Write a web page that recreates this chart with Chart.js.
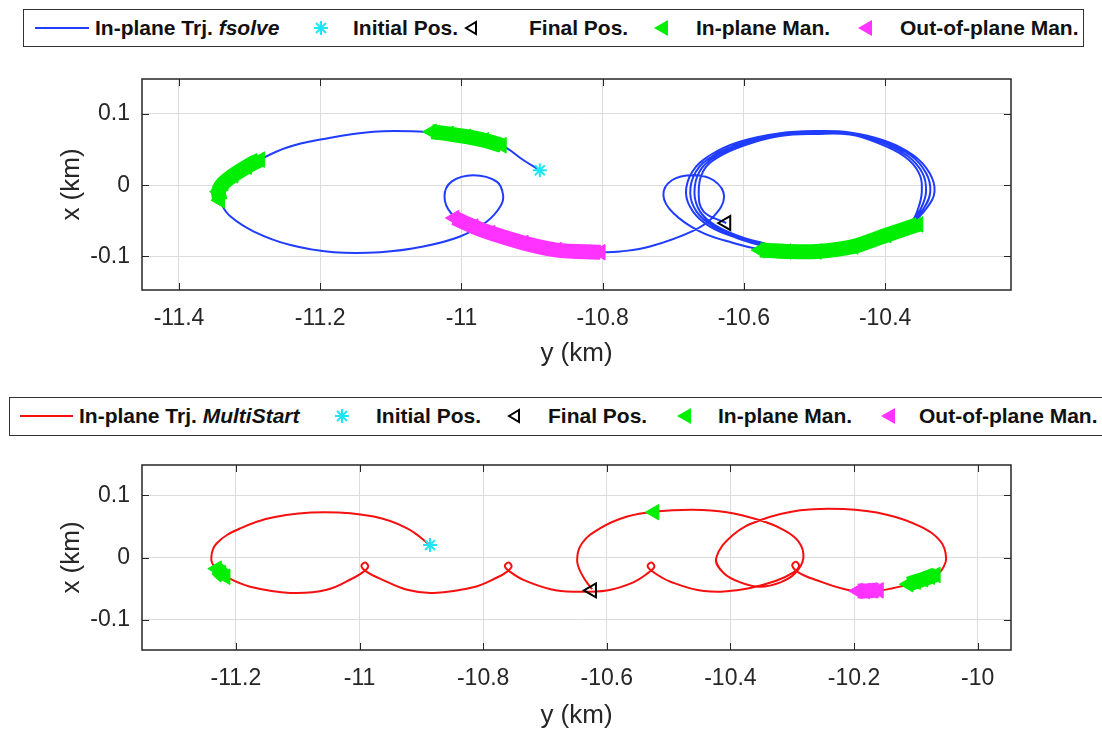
<!DOCTYPE html>
<html>
<head>
<meta charset="utf-8">
<script src="https://cdn.jsdelivr.net/npm/chart.js@4.4.0/dist/chart.umd.min.js"></script>
<style>
  body { margin: 0; width: 1102px; height: 731px; overflow: hidden; background: #fff; position: relative;
         font-family: 'Liberation Sans', Arial, sans-serif; }
  canvas { position: absolute; left: 0; }
  .legend { position: absolute; border: 1px solid #333; background: #fff; box-sizing: border-box; }
  .legend span { position: absolute; top: 0; line-height: 36px; font-weight: bold; font-size: 21px; color: #111; white-space: nowrap; }
  .legend svg { position: absolute; }
</style>
</head>
<body>

<div class="legend" style="left:23px; top:9px; width:1061px; height:38px;">
  <svg style="left:11px; top:15px" width="54" height="6"><line x1="0" y1="3" x2="54" y2="3" stroke="#1f3cff" stroke-width="2"/></svg>
  <span style="left:71px">In-plane Trj. <i>fsolve</i></span>
  <svg style="left:289px; top:10px" width="16" height="16"><g stroke="#1ee6f5" stroke-width="2"><line x1="8" y1="1" x2="8" y2="15"/><line x1="1" y1="8" x2="15" y2="8"/><line x1="3" y1="3" x2="13" y2="13"/><line x1="13" y1="3" x2="3" y2="13"/></g></svg>
  <span style="left:329px">Initial Pos.</span>
  <svg style="left:437px; top:9px" width="18" height="18"><polygon points="5,9 15,3 15,15" fill="none" stroke="#000" stroke-width="2"/></svg>
  <span style="left:505px">Final Pos.</span>
  <svg style="left:628px; top:9px" width="18" height="18"><polygon points="2,9 16,1 16,17" fill="#00ee00"/></svg>
  <span style="left:672px">In-plane Man.</span>
  <svg style="left:832px; top:9px" width="18" height="18"><polygon points="2,9 16,1 16,17" fill="#ff33ff"/></svg>
  <span style="left:876px">Out-of-plane Man.</span>
</div>

<div class="legend" style="left:9px; top:397px; width:1110px; height:39px;">
  <svg style="left:10px; top:15px" width="53" height="6"><line x1="0" y1="3" x2="53" y2="3" stroke="#f50f0f" stroke-width="2"/></svg>
  <span style="left:69px">In-plane Trj. <i>MultiStart</i></span>
  <svg style="left:324px; top:10px" width="16" height="16"><g stroke="#1ee6f5" stroke-width="2"><line x1="8" y1="1" x2="8" y2="15"/><line x1="1" y1="8" x2="15" y2="8"/><line x1="3" y1="3" x2="13" y2="13"/><line x1="13" y1="3" x2="3" y2="13"/></g></svg>
  <span style="left:366px">Initial Pos.</span>
  <svg style="left:494px; top:9px" width="18" height="18"><polygon points="5,9 15,3 15,15" fill="none" stroke="#000" stroke-width="2"/></svg>
  <span style="left:538px">Final Pos.</span>
  <svg style="left:665px; top:9px" width="18" height="18"><polygon points="2,9 16,1 16,17" fill="#00ee00"/></svg>
  <span style="left:708px">In-plane Man.</span>
  <svg style="left:869px; top:9px" width="18" height="18"><polygon points="2,9 16,1 16,17" fill="#ff33ff"/></svg>
  <span style="left:909px">Out-of-plane Man.</span>
</div>

<canvas id="top-chart" width="1040" height="320" style="top:60px"></canvas>
<canvas id="bottom-chart" width="1040" height="291" style="top:440px"></canvas>

<script>
// Points are [y (km), x (km)]: y runs along the horizontal axis, x up the vertical one

// fsolve trajectory (top plot)
const fsolveTrj = [
  [-10.889, 0.021], [-10.912, 0.035], [-10.943, 0.056], [-10.983, 0.066], [-11.016, 0.072], [-11.054, 0.075],
  [-11.125, 0.075], [-11.200, 0.064], [-11.247, 0.053], [-11.285, 0.036], [-11.323, 0.014], [-11.344, -0.009],
  [-11.339, -0.028], [-11.327, -0.044], [-11.294, -0.065], [-11.242, -0.084], [-11.181, -0.094], [-11.115, -0.094],
  [-11.054, -0.086], [-11.002, -0.072], [-10.964, -0.051], [-10.945, -0.030], [-10.941, -0.014], [-10.950, 0.005],
  [-10.983, 0.014], [-11.014, 0.005], [-11.024, -0.016], [-11.014, -0.040], [-10.985, -0.058], [-10.959, -0.067],
  [-10.912, -0.081], [-10.865, -0.091], [-10.801, -0.094], [-10.775, -0.093], [-10.733, -0.086], [-10.672, -0.064],
  [-10.643, -0.044], [-10.628, -0.016], [-10.643, 0.007], [-10.672, 0.014], [-10.702, 0.007], [-10.714, -0.014],
  [-10.700, -0.039], [-10.662, -0.065], [-10.615, -0.081], [-10.577, -0.090],
  [-10.540, -0.094], [-10.497, -0.095], [-10.445, -0.089], [-10.398, -0.073], [-10.363, -0.054], [-10.341, -0.032],
  [-10.330, -0.009], [-10.337, 0.017], [-10.360, 0.042], [-10.403, 0.063], [-10.450, 0.074], [-10.497, 0.076],
  [-10.549, 0.073], [-10.606, 0.061], [-10.648, 0.042], [-10.673, 0.019], [-10.682, -0.011], [-10.672, -0.037],
  [-10.648, -0.058], [-10.610, -0.074], [-10.577, -0.084],
  [-10.540, -0.093], [-10.497, -0.093], [-10.445, -0.087], [-10.398, -0.072], [-10.363, -0.053], [-10.345, -0.032],
  [-10.336, -0.009], [-10.342, 0.017], [-10.364, 0.042], [-10.405, 0.062], [-10.450, 0.073], [-10.497, 0.075],
  [-10.549, 0.071], [-10.603, 0.059], [-10.644, 0.041], [-10.668, 0.019], [-10.676, -0.011], [-10.667, -0.037],
  [-10.644, -0.057], [-10.608, -0.073], [-10.577, -0.082],
  [-10.540, -0.092], [-10.497, -0.092], [-10.445, -0.085], [-10.398, -0.070], [-10.363, -0.052], [-10.349, -0.032],
  [-10.342, -0.009], [-10.347, 0.017], [-10.368, 0.041], [-10.407, 0.061], [-10.450, 0.072], [-10.497, 0.073],
  [-10.549, 0.070], [-10.601, 0.058], [-10.641, 0.040], [-10.663, 0.019], [-10.670, -0.011], [-10.662, -0.037],
  [-10.641, -0.056], [-10.606, -0.072], [-10.577, -0.080],
  [-10.540, -0.090], [-10.497, -0.090], [-10.445, -0.083], [-10.398, -0.069], [-10.363, -0.051], [-10.353, -0.032],
  [-10.348, -0.009], [-10.352, 0.017], [-10.372, 0.040], [-10.410, 0.059], [-10.450, 0.071], [-10.497, 0.072],
  [-10.549, 0.069], [-10.599, 0.056], [-10.637, 0.039], [-10.658, 0.019], [-10.664, -0.011], [-10.657, -0.037],
  [-10.625, -0.053]
];
const fsolveInit = [[-10.889, 0.021]];
const fsolveFinal = [[-10.625, -0.053]];
const fsolveInMan = [
  [[-10.943, 0.056], [-10.968, 0.063], [-10.993, 0.068], [-11.018, 0.072], [-11.042, 0.075]],
  [[-11.285, 0.036], [-11.304, 0.026], [-11.323, 0.014], [-11.337, 0.003], [-11.344, -0.009], [-11.342, -0.021]],
  [[-10.577, -0.091], [-10.540, -0.093], [-10.497, -0.093], [-10.445, -0.086], [-10.398, -0.070], [-10.353, -0.055]]
];
const fsolveOutMan = [
  [[-11.010, -0.046], [-10.983, -0.058], [-10.959, -0.067], [-10.912, -0.081], [-10.865, -0.091], [-10.803, -0.094]]
];
const fsolveHTicks = [-11.4, -11.2, -11, -10.8, -10.6, -10.4];

// MultiStart trajectory (bottom plot)
const msTrj = [
  [-10.886, 0.020], [-10.923, 0.047], [-10.977, 0.066], [-11.058, 0.073], [-11.139, 0.065], [-11.193, 0.047],
  [-11.231, 0.023], [-11.240, -0.001], [-11.233, -0.017], [-11.212, -0.033], [-11.177, -0.047], [-11.112, -0.057],
  [-11.053, -0.052], [-11.010, -0.033],
  [-10.995, -0.024], [-10.986, -0.015], [-10.991, -0.008], [-10.997, -0.014], [-10.987, -0.024],
  [-10.967, -0.034], [-10.923, -0.052], [-10.880, -0.057], [-10.816, -0.048], [-10.775, -0.031],
  [-10.763, -0.024], [-10.754, -0.015], [-10.759, -0.008], [-10.765, -0.014], [-10.755, -0.024],
  [-10.735, -0.036], [-10.691, -0.051], [-10.654, -0.055], [-10.600, -0.053], [-10.557, -0.040],
  [-10.532, -0.024], [-10.523, -0.015], [-10.528, -0.008], [-10.534, -0.014], [-10.524, -0.024],
  [-10.497, -0.039], [-10.443, -0.054], [-10.379, -0.051], [-10.325, -0.037],
  [-10.298, -0.024], [-10.289, -0.014], [-10.294, -0.007], [-10.300, -0.013], [-10.290, -0.024],
  [-10.265, -0.035], [-10.201, -0.054], [-10.157, -0.053], [-10.136, -0.049], [-10.114, -0.044], [-10.068, -0.028],
  [-10.058, -0.020], [-10.051, -0.001], [-10.060, 0.026], [-10.093, 0.050], [-10.147, 0.069], [-10.217, 0.078],
  [-10.287, 0.076], [-10.352, 0.060], [-10.395, 0.037], [-10.423, -0.001], [-10.411, -0.025], [-10.384, -0.040],
  [-10.352, -0.047], [-10.319, -0.040], [-10.295, -0.025], [-10.282, -0.001], [-10.290, 0.026], [-10.319, 0.047],
  [-10.352, 0.060], [-10.406, 0.073], [-10.460, 0.077], [-10.522, 0.074], [-10.567, 0.066], [-10.611, 0.047],
  [-10.640, 0.023], [-10.648, -0.004], [-10.640, -0.028], [-10.624, -0.051]
];
const msInit = [[-10.886, 0.020]];
const msFinal = [[-10.624, -0.053]];
const msInMan = [
  [[-11.231, -0.018], [-11.224, -0.025], [-11.217, -0.031]],
  [[-10.523, 0.073]],
  [[-10.112, -0.043], [-10.100, -0.039], [-10.088, -0.035], [-10.077, -0.031], [-10.068, -0.028]]
];
const msOutMan = [
  [[-10.194, -0.054], [-10.182, -0.054], [-10.170, -0.053], [-10.160, -0.053]]
];
const msHTicks = [-11.2, -11, -10.8, -10.6, -10.4, -10.2, -10];

const vTicks = [-0.1, 0, 0.1];

const BLUE = '#1f3cff';
const RED = '#f50f0f';
const CYAN = '#1ee6f5';
const GREEN = '#00ee00';
const MAGENTA = '#ff33ff';
const AXIS = '#262626';
const FONT = "'Liberation Sans', Arial, sans-serif";

const pts = arr => arr.map(([y, x]) => ({ x: y, y: x }));
const fmt = v => String(Math.round(v * 100) / 100);

// MATLAB style box with inward ticks on all four sides
const matlabBox = {
  id: 'matlabBox',
  afterDatasetsDraw(chart) {
    const { ctx, chartArea: a, scales: { x, y } } = chart;
    ctx.save();
    ctx.strokeStyle = AXIS;
    ctx.lineWidth = 1;
    ctx.beginPath();
    x.ticks.forEach(t => {
      const px = Math.round(x.getPixelForValue(t.value)) + 0.5;
      ctx.moveTo(px, a.bottom); ctx.lineTo(px, a.bottom - 7);
      ctx.moveTo(px, a.top); ctx.lineTo(px, a.top + 7);
    });
    y.ticks.forEach(t => {
      const py = Math.round(y.getPixelForValue(t.value)) + 0.5;
      ctx.moveTo(a.left, py); ctx.lineTo(a.left + 7, py);
      ctx.moveTo(a.right, py); ctx.lineTo(a.right - 7, py);
    });
    ctx.stroke();
    ctx.lineWidth = 1.5;
    ctx.strokeRect(a.left, a.top, a.right - a.left, a.bottom - a.top);
    ctx.restore();
  }
};

const maneuver = (seg, color, order) => ({
  data: pts(seg),
  showLine: true,
  borderColor: color,
  borderWidth: 15,
  tension: 0.3,
  pointStyle: 'triangle',
  pointRotation: -90,
  pointRadius: 9,
  pointBackgroundColor: color,
  pointBorderColor: color,
  pointBorderWidth: 1,
  order: order
});

const makeChart = (id, p) => {
  const datasets = [
    { data: pts(p.trj), showLine: true, borderColor: p.color, borderWidth: 2, pointRadius: 0, tension: 0.4, order: 5 },
    { data: pts(p.init), showLine: false, pointStyle: 'star', pointRadius: 7,
      pointBorderColor: CYAN, pointBorderWidth: 2, order: 4 },
    { data: pts(p.final), showLine: false, pointStyle: 'triangle', pointRotation: -90, pointRadius: 8,
      pointBorderColor: '#000', pointBackgroundColor: 'rgba(0,0,0,0)', pointBorderWidth: 2, order: 3 },
    ...p.inMan.map(seg => maneuver(seg, GREEN, 2)),
    ...p.outMan.map(seg => maneuver(seg, MAGENTA, 1))
  ];

  return new Chart(document.getElementById(id).getContext('2d'), {
    type: 'scatter',
    data: { datasets },
    options: {
      responsive: false,
      animation: false,
      events: [],
      layout: { padding: { top: p.padTop, right: 29, left: 0, bottom: 0 } },
      plugins: { legend: { display: false }, tooltip: { enabled: false } },
      scales: {
        x: {
          type: 'linear', position: 'bottom', min: p.hMin, max: p.hMax,
          afterBuildTicks: s => { s.ticks = p.hTicks.map(v => ({ value: v })); },
          afterFit: s => { s.height = p.xAxisHeight; s.paddingLeft = 0; s.paddingRight = 0; },
          grid: { color: '#dcdcdc', lineWidth: 1, drawTicks: false },
          border: { display: false },
          ticks: { font: { family: FONT, size: 23 }, color: AXIS, padding: 15, maxRotation: 0, callback: v => fmt(v) },
          title: { display: true, text: 'y (km)', font: { family: FONT, size: 26 }, color: AXIS,
                   padding: { top: 0, bottom: p.titlePad } }
        },
        y: {
          type: 'linear', position: 'left', min: p.vMin, max: p.vMax,
          afterBuildTicks: s => { s.ticks = vTicks.map(v => ({ value: v })); },
          afterFit: s => { s.width = 142; s.paddingTop = 0; s.paddingBottom = 0; },
          grid: { color: '#dcdcdc', lineWidth: 1, drawTicks: false },
          border: { display: false },
          ticks: { font: { family: FONT, size: 23 }, color: AXIS, padding: 12, callback: v => fmt(v) },
          title: { display: true, text: 'x (km)', font: { family: FONT, size: 26 }, color: AXIS,
                   padding: { top: 56, bottom: 0 } }
        }
      }
    },
    plugins: [matlabBox]
  });
};

makeChart('top-chart', {
  trj: fsolveTrj, init: fsolveInit, final: fsolveFinal, inMan: fsolveInMan, outMan: fsolveOutMan,
  color: BLUE, hTicks: fsolveHTicks, hMin: -11.4524, hMax: -10.2217, vMin: -0.147, vMax: 0.149,
  padTop: 19, xAxisHeight: 90, titlePad: 11
});

makeChart('bottom-chart', {
  trj: msTrj, init: msInit, final: msFinal, inMan: msInMan, outMan: msOutMan,
  color: RED, hTicks: msHTicks, hMin: -11.352, hMax: -9.946, vMin: -0.149, vMax: 0.149,
  padTop: 25, xAxisHeight: 81, titlePad: 0
});
</script>
</body>
</html>
